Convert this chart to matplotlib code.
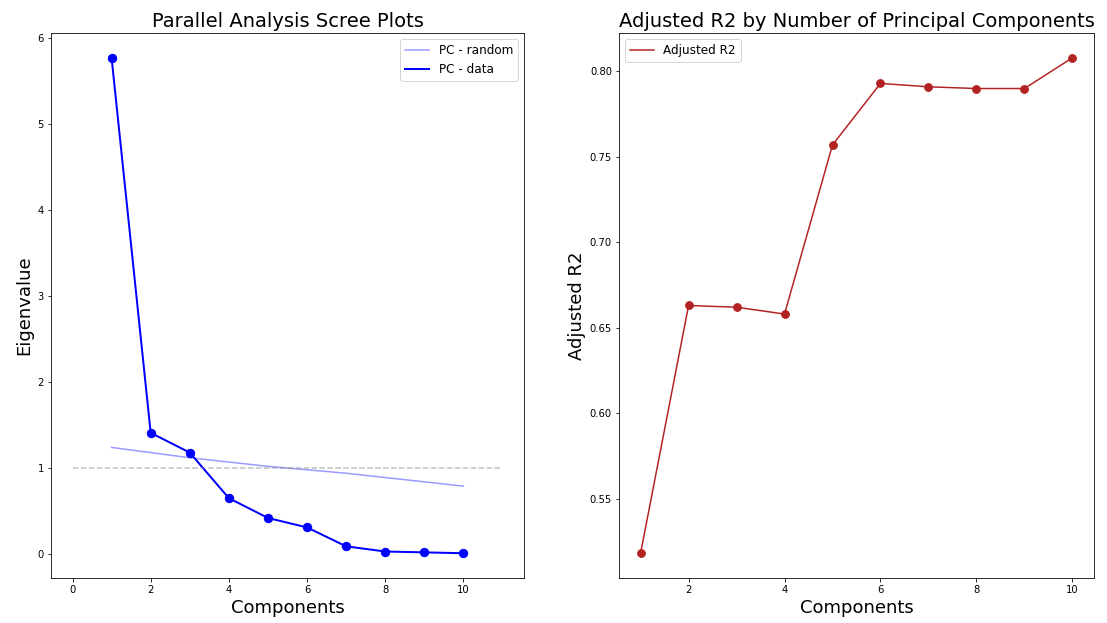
import numpy as np
import matplotlib
matplotlib.use("Agg")
import matplotlib.pyplot as plt

# eigenvalues per component
components = [1, 2, 3, 4, 5, 6, 7, 8, 9, 10]
eig_data = [5.77, 1.41, 1.18, 0.65, 0.42, 0.31, 0.09, 0.03, 0.02, 0.01]
eig_random = [1.24, 1.18, 1.12, 1.07, 1.02, 0.98, 0.94, 0.89, 0.84, 0.79]
kaiser_x = [0, 11]
kaiser_y = [1, 1]

# adjusted r2 of regressions on the first n components
adj_r2 = [0.518, 0.663, 0.662, 0.658, 0.757, 0.793, 0.791, 0.790, 0.790, 0.808]

fig = plt.figure(figsize=(1107 / 72, 623 / 72), dpi=72)
ax1 = fig.add_axes([51 / 1107, 45 / 623, 473 / 1107, 545 / 623])
ax2 = fig.add_axes([619 / 1107, 45 / 623, 475 / 1107, 545 / 623])

ax1.plot(components, eig_random, color='blue', alpha=0.4, lw=1.5, label='PC - random')
ax1.plot(components, eig_data, color='blue', lw=2, label='PC - data')
ax1.scatter(components, eig_data, color='blue', s=70, zorder=3)
ax1.plot(kaiser_x, kaiser_y, color='grey', alpha=0.5, ls='--', lw=1.5)
ax1.set_title('Parallel Analysis Scree Plots', fontsize=19.5)
ax1.set_xlabel('Components', fontsize=18)
ax1.set_ylabel('Eigenvalue', fontsize=18)
ax1.legend(loc='upper right', fontsize=12)

ax2.plot(components, adj_r2, color='firebrick', lw=1.5, label='Adjusted R2')
ax2.scatter(components, adj_r2, color='firebrick', s=60, zorder=3)
ax2.set_title('Adjusted R2 by Number of Principal Components', fontsize=19.5)
ax2.set_xlabel('Components', fontsize=18)
ax2.set_ylabel('Adjusted R2', fontsize=18)
ax2.legend(loc='upper left', fontsize=12)

for ax in (ax1, ax2):
    ax.tick_params(labelsize=10)

fig.savefig('out.png', dpi=72)
